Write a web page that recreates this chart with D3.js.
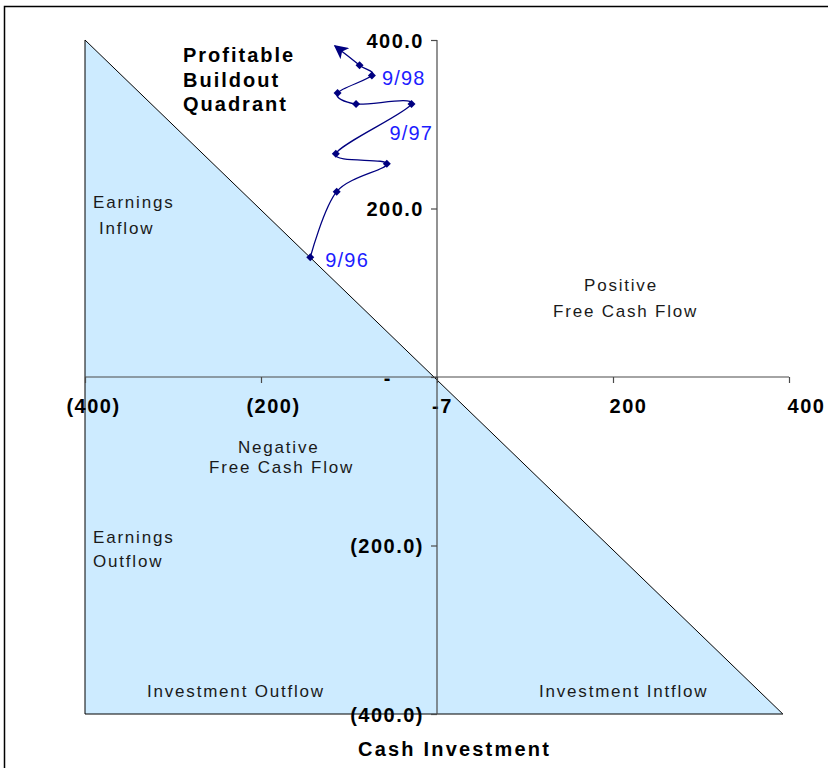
<!DOCTYPE html>
<html>
<head>
<meta charset="utf-8">
<script src="https://cdn.jsdelivr.net/npm/d3@7"></script>
<style>
  html, body { margin: 0; padding: 0; background: #fff; }
  svg { display: block; font-family: "Liberation Sans", Arial, sans-serif; }
</style>
</head>
<body>
<svg id="chart" width="828" height="768"></svg>
<script>
// Earnings path plotted against cash investment, quarter by quarter
const cashInvestment = [-144, -114, -57, -115, -29, -92, -113, -74, -88, -116];
const earnings       = [142, 220, 253, 265, 324, 324, 337, 358, 370, 393];
const pointLabels    = ["9/96", "", "", "", "9/97", "", "", "9/98", "", ""];

// Shaded wedge below the break-even diagonal
const wedgeX = [-400, -400, 393];
const wedgeY = [400, -400, -400];

// Axis ticks
const xTickValues = [-400, -200, 0, 200, 400];
const xTickLabels = ["(400)", "(200)", "-7", "200", "400"];
const yTickValues = [400, 200, 0, -200, -400];
const yTickLabels = ["400.0", "200.0", "-", "(200.0)", "(400.0)"];

const svg = d3.select("#chart");

const x = d3.scaleLinear().domain([-400, 400]).range([85, 789]);
const y = d3.scaleLinear().domain([-400, 400]).range([714, 40]);

// outer frame
svg.append("rect")
  .attr("x", 4.5).attr("y", 6.5)
  .attr("width", 840).attr("height", 800)
  .attr("fill", "none").attr("stroke", "#000").attr("stroke-width", 1.5);

// wedge
const wedge = wedgeX.map((v, i) => [x(v), y(wedgeY[i])]);
svg.append("path")
  .attr("d", d3.line()(wedge) + "Z")
  .attr("fill", "#cdebff")
  .attr("stroke", "#000")
  .attr("stroke-width", 1);

// axes
const axisColor = "#4a4a4a";
const xAxis = svg.append("g")
  .attr("transform", `translate(0,${y(0)})`)
  .call(d3.axisBottom(x).tickValues(xTickValues).tickSize(6).tickPadding(16)
    .tickFormat((d, i) => xTickLabels[i]));
const yAxis = svg.append("g")
  .attr("transform", `translate(${x(0)},0)`)
  .call(d3.axisLeft(y).tickValues(yTickValues).tickSize(6).tickPadding(8)
    .tickFormat((d, i) => yTickLabels[i]));

[xAxis, yAxis].forEach(g => {
  g.select(".domain").attr("stroke", axisColor).attr("stroke-width", 1.2);
  g.selectAll(".tick line").attr("stroke", axisColor).attr("stroke-width", 1.2);
  g.selectAll("text")
    .attr("fill", "#000")
    .style("font-size", "20px")
    .style("font-weight", "bold")
    .style("letter-spacing", "1.5px");
});
// axis lines span exactly the plot range
xAxis.select(".domain").attr("d", `M${x(-400)},0H${x(400)}`);
yAxis.select(".domain").attr("d", `M0,${y(400)}V${y(-400)}`);

xAxis.selectAll(".tick text").attr("dx", (d, i) => [8, 12, 5, 15, 17][i]);
yAxis.selectAll(".tick text").attr("dx", (d, i) => d === 0 ? -31 : 1).attr("dy", "0.36em");

// earnings path
const pts = cashInvestment.map((v, i) => [x(v), y(earnings[i])]);

svg.append("defs").append("marker")
  .attr("id", "arrow")
  .attr("viewBox", "0 0 10 10")
  .attr("refX", 9).attr("refY", 5)
  .attr("markerWidth", 14).attr("markerHeight", 14)
  .attr("markerUnits", "userSpaceOnUse")
  .attr("orient", "auto")
  .append("path")
  .attr("d", "M0,0L10,5L0,10L2.5,5Z")
  .attr("fill", "#000080");

svg.append("path")
  .attr("d", d3.line().curve(d3.curveCardinal.tension(0))(pts))
  .attr("fill", "none")
  .attr("stroke", "#000080")
  .attr("stroke-width", 1.3)
  .attr("marker-end", "url(#arrow)");

svg.append("g").selectAll("path")
  .data(pts.slice(0, pts.length - 1))
  .join("path")
  .attr("transform", d => `translate(${d[0]},${d[1]})`)
  .attr("d", "M0,-4L4,0L0,4L-4,0Z")
  .attr("fill", "#000080");

// quarter labels
const labelOffsets = [[15, 2], [0, 0], [0, 0], [0, 0], [-22, 29], [0, 0], [0, 0], [10, 2], [0, 0], [0, 0]];
svg.append("g").selectAll("text")
  .data(pts.map((p, i) => ({ p, t: pointLabels[i], o: labelOffsets[i] })).filter(d => d.t))
  .join("text")
  .attr("x", d => d.p[0] + d.o[0])
  .attr("y", d => d.p[1] + d.o[1])
  .attr("dy", "0.36em")
  .attr("fill", "#1c1cff")
  .style("font-size", "20px")
  .style("letter-spacing", "1.2px")
  .text(d => d.t);

// region annotations
function note(tx, ty, str, opts = {}) {
  svg.append("text")
    .attr("x", tx).attr("y", ty).attr("dy", "0.36em")
    .attr("fill", opts.color || "#1a1a1a")
    .style("font-size", (opts.size || 17) + "px")
    .style("font-weight", opts.bold ? "bold" : "normal")
    .style("letter-spacing", (opts.ls != null ? opts.ls : 1.8) + "px")
    .text(str);
}
note(183, 55, "Profitable", { bold: true, size: 20, color: "#000", ls: 2 });
note(183, 80, "Buildout", { bold: true, size: 20, color: "#000", ls: 2 });
note(183, 104, "Quadrant", { bold: true, size: 20, color: "#000", ls: 2 });

note(93, 202, "Earnings");
note(99, 228, "Inflow");
note(584, 285, "Positive");
note(553, 311, "Free Cash Flow");
note(238, 447, "Negative");
note(209, 467, "Free Cash Flow");
note(93, 537, "Earnings");
note(93, 561, "Outflow");
note(147, 691, "Investment Outflow");
note(539, 691, "Investment Intflow");

note(358, 749, "Cash Investment", { bold: true, size: 20, color: "#000", ls: 2.2 });
</script>
</body>
</html>
